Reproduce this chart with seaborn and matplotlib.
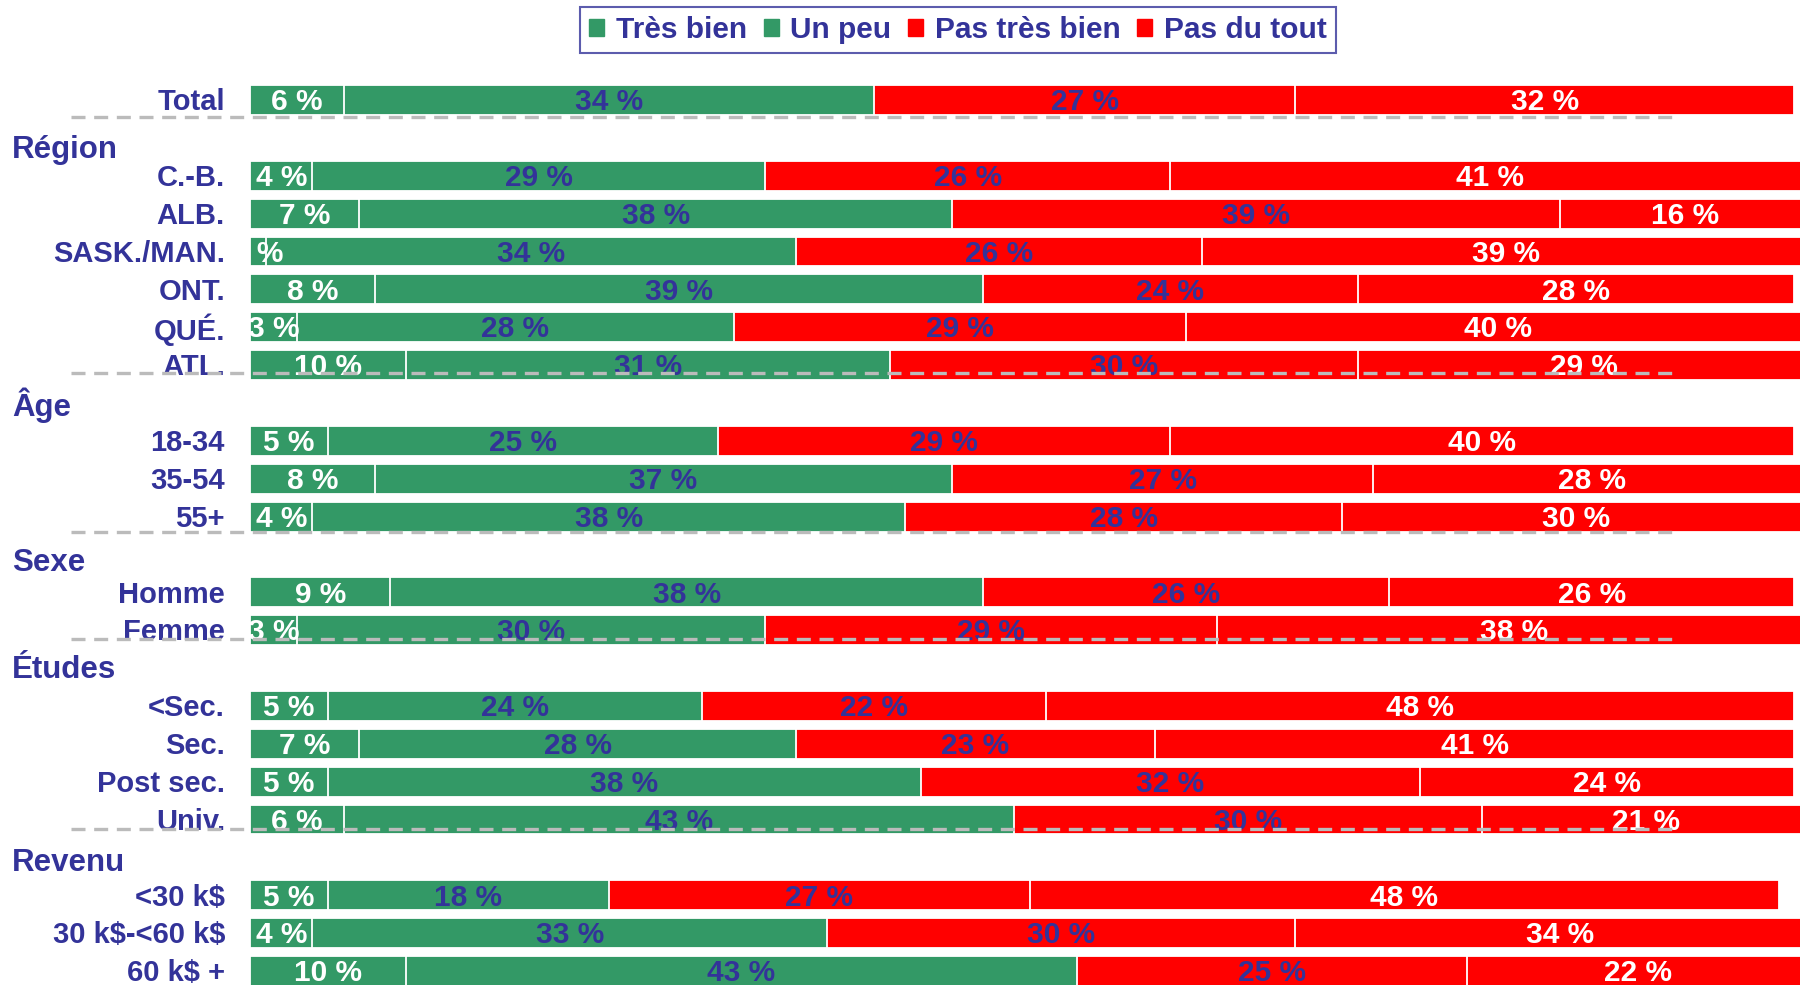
import matplotlib
matplotlib.use("Agg")
import matplotlib.pyplot as plt
import matplotlib.transforms as mtransforms
from matplotlib.patches import Patch
import seaborn as sns
import pandas as pd

# ---------------- data ----------------
series = ["Très bien", "Un peu", "Pas très bien", "Pas du tout"]
colors = ["#339966", "#339966", "#FF0000", "#FF0000"]
label_colors = ["white", "#333399", "#333399", "white"]

# rows: (kind, text) -- "h" = group header, "c" = category with bar
rows = [
    ("c", "Total"),
    ("h", "Région"),
    ("c", "C.-B."), ("c", "ALB."), ("c", "SASK./MAN."), ("c", "ONT."), ("c", "QUÉ."), ("c", "ATL."),
    ("h", "Âge"),
    ("c", "18-34"), ("c", "35-54"), ("c", "55+"),
    ("h", "Sexe"),
    ("c", "Homme"), ("c", "Femme"),
    ("h", "Études"),
    ("c", "<Sec."), ("c", "Sec."), ("c", "Post sec."), ("c", "Univ."),
    ("h", "Revenu"),
    ("c", "<30 k$"), ("c", "30 k$-<60 k$"), ("c", "60 k$ +"),
]

tres_bien    = [6, 4, 7, 1, 8, 3, 10, 5, 8, 4, 9, 3, 5, 7, 5, 6, 5, 4, 10]
un_peu       = [34, 29, 38, 34, 39, 28, 31, 25, 37, 38, 38, 30, 24, 28, 38, 43, 18, 33, 43]
pas_tres     = [27, 26, 39, 26, 24, 29, 30, 29, 27, 28, 26, 29, 22, 23, 32, 30, 27, 30, 25]
pas_du_tout  = [32, 41, 16, 39, 28, 40, 29, 40, 28, 30, 26, 38, 48, 41, 24, 21, 48, 34, 22]

# separators drawn after these categories
separators_after = ["Total", "ATL.", "55+", "Femme", "Univ."]

# ---------------- figure ----------------
sns.set_style("white")
plt.rcParams["font.family"] = ["Liberation Sans", "DejaVu Sans"]
plt.rcParams["font.weight"] = "bold"
plt.rcParams["text.parse_math"] = False

W, H = 1800, 985
fig = plt.figure(figsize=(W / 100, H / 100), dpi=100)
ax = fig.add_axes([250 / W, 0, 1550 / W, 925 / H])

order = [f"{k}_{i}" for i, (k, t) in enumerate(rows)]
cat_keys = [o for o in order if o.startswith("c_")]
vals = [tres_bien, un_peu, pas_tres, pas_du_tout]

df = pd.DataFrame({"key": cat_keys})
cum = [0] * len(cat_keys)
cums = []
for v in vals:
    cum = [a + b for a, b in zip(cum, v)]
    cums.append(list(cum))
for j in range(4):
    df[f"cum{j}"] = cums[j]

# draw cumulative layers, largest first
for j in range(3, -1, -1):
    sns.barplot(data=df, x=f"cum{j}", y="key", order=order, orient="h",
                color=colors[j], saturation=1, width=0.79, errorbar=None,
                edgecolor="white", linewidth=1.3, ax=ax)

ax.set_xlim(0, 1550 / 15.6)
ax.set_ylim(23 + (985 - 971) / 37.87, -(100 - 60) / 37.87)
ax.set_xlabel("")
ax.set_ylabel("")
ax.set_xticks([])
ax.set_yticks([])
for s in ax.spines.values():
    s.set_visible(False)

# value labels
pos = {o: i for i, o in enumerate(order)}
for r, key in enumerate(cat_keys):
    y = pos[key]
    left = 0
    for j in range(4):
        v = vals[j][r]
        ax.text(left + v / 2, y + 0.06, f"{v} %", ha="center", va="center",
                color=label_colors[j], fontsize=21.5, fontweight="bold",
                clip_on=True, zorder=5)
        left += v

# category labels and headers
tr = mtransforms.blended_transform_factory(fig.transFigure, ax.transData)
head_off = {"Région": 0.32, "Âge": 0.05, "Sexe": 0.22, "Études": 0.05, "Revenu": 0.15}
for i, (k, t) in enumerate(rows):
    if k == "c":
        ax.text(225 / W, i + 0.06, t, transform=tr, ha="right", va="center",
                color="#333399", fontsize=21, fontweight="bold", clip_on=False)
    else:
        ax.text(12 / W, i + head_off[t], t, transform=tr, ha="left", va="center",
                color="#333399", fontsize=22.5, fontweight="bold", clip_on=False)

# dashed separators
sep_off = {"Total": 0.45, "ATL.": 0.2, "55+": 0.42, "Femme": 0.22, "Univ.": 0.24}
for name in separators_after:
    idx = [i for i, (k, t) in enumerate(rows) if t == name][0]
    yy = idx + sep_off[name]
    ax.plot([71 / W, 1673 / W], [yy, yy], transform=tr, color="#BBBBBB",
            lw=2.4, dashes=(4.2, 2.6), clip_on=False, zorder=6)

# legend
handles = [Patch(facecolor=c, edgecolor=c, label=s) for c, s in zip(colors, series)]
leg = fig.legend(handles=handles, loc="upper center", bbox_to_anchor=(958 / W, 1 - 7 / H),
                 ncol=4, frameon=True, fancybox=False, fontsize=21.5,
                 handlelength=0.5, handleheight=0.5, handletextpad=0.4,
                 columnspacing=0.55, borderpad=0.3, borderaxespad=0)
leg.get_frame().set_edgecolor("#333399")
leg.get_frame().set_linewidth(1.5)
for txt in leg.get_texts():
    txt.set_color("#333399")
    txt.set_fontweight("bold")

fig.savefig("out.png", dpi=100)
